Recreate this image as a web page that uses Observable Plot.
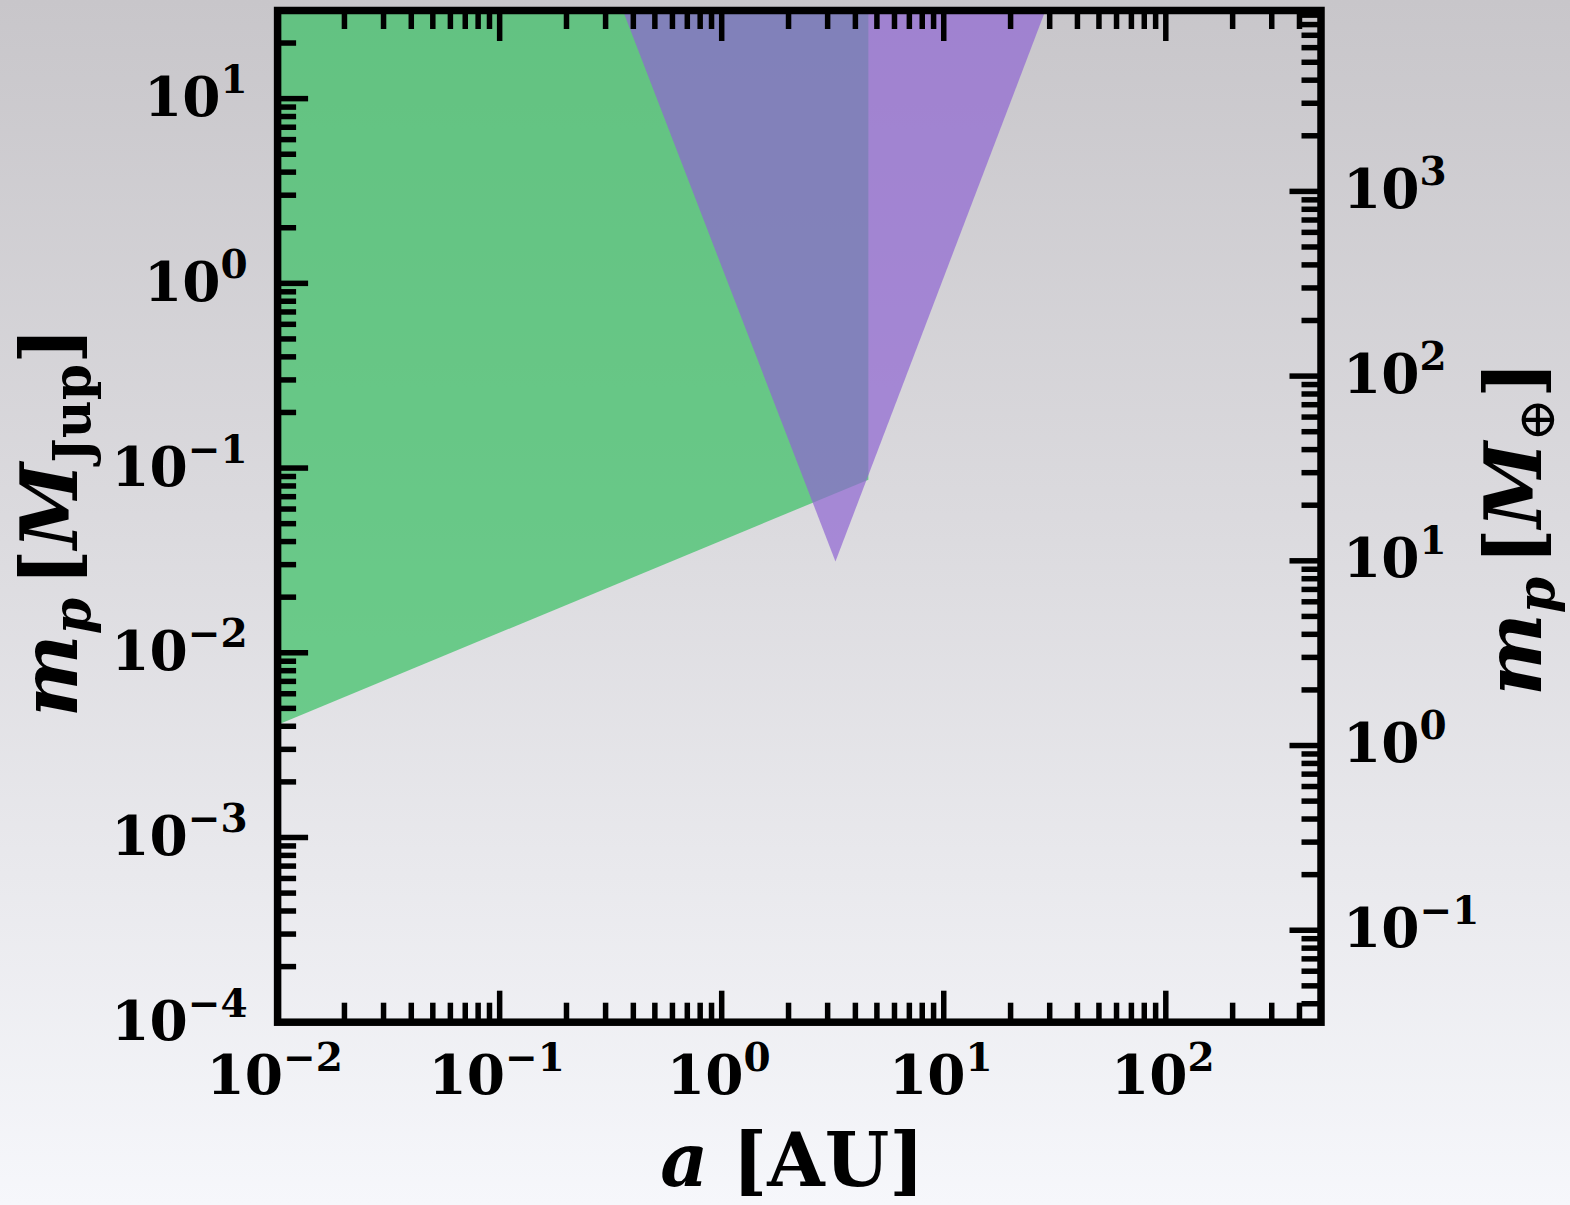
<!DOCTYPE html>
<html><head><meta charset="utf-8">
<script src="https://cdn.jsdelivr.net/npm/d3@7"></script>
<script src="https://cdn.jsdelivr.net/npm/@observablehq/plot@0.6"></script>
<style>
html,body{margin:0;padding:0;}
body{width:1570px;height:1205px;background:linear-gradient(to bottom,#c8c6ca 0%,#dcdbdf 45%,#f6f7fb 100%);overflow:hidden;}
#chart svg{display:block;}
</style></head><body><div id="chart"></div>
<script>
// ---- data ----
const xDomain = [0.01, 500];          // a [AU]
const yDomain = [1e-4, 30];           // m_p [M_Jup]
const earthPerJupiter = 317.8;

// green region (x, lower bound, upper bound)
const greenA = [0.01, 4.6];
const greenLow = [0.00404, 0.086];
const greenHigh = [30, 30];

// purple triangle
const triA = [0.36, 3.27, 28.9];
const triLow = [30, 0.031, 30];
const triHigh = [30, 30, 30];

// tick labels
const xMajor = [0.01, 0.1, 1, 10, 100];
const xExps = ["−2", "−1", "0", "1", "2"];
const yMajor = [1e-4, 1e-3, 1e-2, 0.1, 1, 10];
const yExps = ["−4", "−3", "−2", "−1", "0", "1"];
const eMajor = [0.1, 1, 10, 100, 1000];
const eExps = ["−1", "0", "1", "2", "3"];

// ---- layout ----
const W = 1570, H = 1205, mL = 277.1, mR = 249.5, mT = 10, mB = 183.3;
const pw = W - mL - mR, ph = H - mT - mB;
const majorLen = 31, minorLen = 19, tickW = 5.5;
const baseSize = 55, expSize = 39, raise = 23;
const titleSize = 74, rotSize = 78, rotSub = 52;

const isMajor = v => Math.abs(Math.log10(v) - Math.round(Math.log10(v))) < 1e-9;
const xMinor = d3.scaleLog().domain(xDomain).ticks().filter(v => !isMajor(v));
const yMinor = d3.scaleLog().domain(yDomain).ticks().filter(v => !isMajor(v));
const eMinor = d3.scaleLog().domain(yDomain.map(v => v * earthPerJupiter)).ticks().filter(v => !isMajor(v));

const ctx = document.createElement("canvas").getContext("2d");
function tw(s, size, italic = false, weight = "bold") {
  ctx.font = `${italic ? "italic " : ""}${weight} ${size}px "DejaVu Serif"`;
  return ctx.measureText(s).width;
}
const tb = {fontFamily: "DejaVu Serif", fontWeight: "bold", fill: "black", lineAnchor: "bottom"};

const greenData = greenA.map((a, i) => ({a, lo: greenLow[i], hi: greenHigh[i]}));
const triData = triA.map((a, i) => ({a, lo: triLow[i], hi: triHigh[i]}));

const tickStyle = {stroke: "black", strokeWidth: tickW};
const tickMarks = [
  Plot.ruleX(xMajor, {x: d => d, insetTop: ph - majorLen, ...tickStyle}),
  Plot.ruleX(xMinor, {x: d => d, insetTop: ph - minorLen, ...tickStyle}),
  Plot.ruleX(xMajor, {x: d => d, insetBottom: ph - majorLen, ...tickStyle}),
  Plot.ruleX(xMinor, {x: d => d, insetBottom: ph - minorLen, ...tickStyle}),
  Plot.ruleY(yMajor, {y: d => d, insetRight: pw - majorLen, ...tickStyle}),
  Plot.ruleY(yMinor, {y: d => d, insetRight: pw - minorLen, ...tickStyle}),
  Plot.ruleY(eMajor, {y: d => d / earthPerJupiter, insetLeft: pw - majorLen, ...tickStyle}),
  Plot.ruleY(eMinor, {y: d => d / earthPerJupiter, insetLeft: pw - minorLen, ...tickStyle})
];

const wBase = tw("10", baseSize);
const xLabelMarks = xMajor.flatMap((v, i) => {
  const wE = tw(xExps[i], expSize);
  const start = -(wBase + wE) / 2 - 3;
  return [
    Plot.text([v], {...tb, x: d => d, frameAnchor: "bottom", text: () => "10", textAnchor: "start", dx: start, dy: 72, fontSize: baseSize}),
    Plot.text([v], {...tb, x: d => d, frameAnchor: "bottom", text: () => xExps[i], textAnchor: "start", dx: start + wBase, dy: 72 - raise, fontSize: expSize})
  ];
});
const yLabelMarks = yMajor.flatMap((v, i) => {
  const wE = tw(yExps[i], expSize);
  return [
    Plot.text([v], {...tb, y: d => d, frameAnchor: "left", text: () => "10", textAnchor: "end", dx: -30 - wE, dy: 17.5, fontSize: baseSize}),
    Plot.text([v], {...tb, y: d => d, frameAnchor: "left", text: () => yExps[i], textAnchor: "end", dx: -30, dy: 17.5 - raise, fontSize: expSize})
  ];
});
const eLabelMarks = eMajor.flatMap((v, i) => [
  Plot.text([v], {...tb, y: d => d / earthPerJupiter, frameAnchor: "right", text: () => "10", textAnchor: "start", dx: 22, dy: 16.5, fontSize: baseSize}),
  Plot.text([v], {...tb, y: d => d / earthPerJupiter, frameAnchor: "right", text: () => eExps[i], textAnchor: "start", dx: 22 + wBase, dy: 16.5 - raise, fontSize: expSize})
]);

// x title
const wa = tw("a", titleSize, true), wAU = tw("[AU]", titleSize), gapA = 24;
const xt = -(wa + gapA + wAU) / 2 - 7;
const xTitle = [
  Plot.text(["a"], {...tb, frameAnchor: "bottom", text: d => d, textAnchor: "start", dx: xt, dy: 163.3, fontSize: titleSize, fontStyle: "italic"}),
  Plot.text(["[AU]"], {...tb, frameAnchor: "bottom", text: d => d, textAnchor: "start", dx: xt + wa + gapA, dy: 163.3, fontSize: titleSize})
];

function rotatedTitle(pieces, anchor, baseDx, centerY) {
  const widths = pieces.map(p => p.gap != null ? p.gap : tw(p.s, p.size, p.italic, p.weight || "bold"));
  const L = d3.sum(widths);
  const midY = mT + ph / 2;
  const startY = centerY + L / 2;
  let s = 0;
  const marks = [];
  pieces.forEach((p, k) => {
    if (p.s) marks.push(Plot.text([p.s], {...tb, frameAnchor: anchor, text: d => d, textAnchor: "start", rotate: -90,
      dx: baseDx + (p.sub || 0), dy: startY - s - midY, fontSize: p.size,
      fontStyle: p.italic ? "italic" : "normal", fontWeight: p.weight || "bold"}));
    s += widths[k];
  });
  return marks;
}
const leftTitle = rotatedTitle([
  {s: "m", size: rotSize, italic: true},
  {s: "p", size: rotSub, italic: true, sub: 13},
  {gap: 12},
  {s: "[", size: rotSize},
  {s: "M", size: rotSize, italic: true},
  {s: "Jup", size: rotSub, sub: 13},
  {s: "]", size: rotSize}
], "left", 76 - mL, 521.5);
const rightTitle = rotatedTitle([
  {s: "m", size: rotSize, italic: true},
  {s: "p", size: rotSub, italic: true, sub: 13},
  {gap: 12},
  {s: "[", size: rotSize},
  {s: "M", size: rotSize, italic: true},
  {s: "⊕", size: rotSub, sub: 13, weight: "normal"},
  {s: "]", size: rotSize}
], "right", 1540 - (W - mR), 528);

const chart = Plot.plot({
  width: W, height: H,
  marginLeft: mL, marginRight: mR, marginTop: mT, marginBottom: mB,
  style: {background: "transparent", overflow: "visible"},
  x: {type: "log", domain: xDomain, axis: null},
  y: {type: "log", domain: yDomain, axis: null},
  marks: [
    Plot.areaY(greenData, {x: "a", y1: "lo", y2: "hi", fill: "rgb(56,192,98)", fillOpacity: 0.7}),
    Plot.areaY(triData, {x: "a", y1: "lo", y2: "hi", fill: "rgb(143,101,210)", fillOpacity: 0.7}),
    ...tickMarks,
    Plot.frame({stroke: "black", strokeWidth: 7.5}),
    ...xLabelMarks, ...yLabelMarks, ...eLabelMarks,
    ...xTitle, ...leftTitle, ...rightTitle
  ]
});
document.getElementById("chart").append(chart);
</script>
</body></html>
